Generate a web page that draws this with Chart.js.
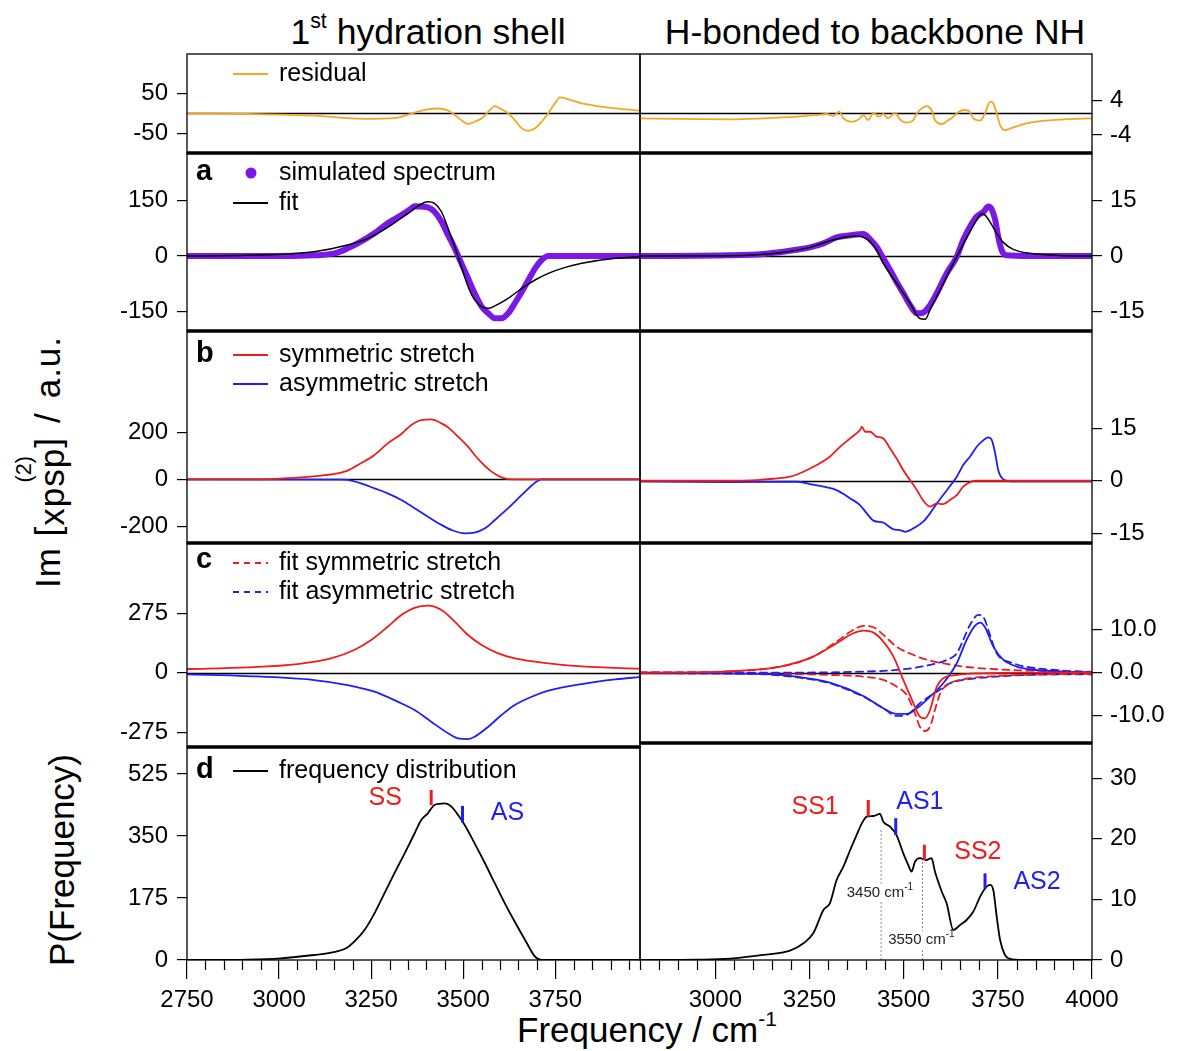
<!DOCTYPE html>
<html>
<head>
<meta charset="utf-8">
<script src="https://cdn.jsdelivr.net/npm/chart.js@4.4.1/dist/chart.umd.min.js"></script>
<style>
    body { margin: 0; background: #fff; font-family: "Liberation Sans", Arial, sans-serif; }
    #fig { position: relative; width: 1183px; height: 1051px; overflow: hidden; background: #fff; }
    .panel { position: absolute; }
    .txt { position: absolute; white-space: nowrap; color: #000; transform: translate(-50%, -50%); }
    .vtxt { position: absolute; white-space: nowrap; color: #000; transform: translate(-50%, -50%) rotate(-90deg); }
    .title { font-size: 35.5px; }
    .axlab { font-size: 35px; }
    .spaced { letter-spacing: 1px; }
    sup.s { font-size: 60%; vertical-align: 0.75em; line-height: 0; }
    .dn { position: relative; top: 0.1em; }
    .up0 { display: inline-block; width: 0; position: relative; top: -1.35em; left: -1.6em; font-size: 0.62em; letter-spacing: 0; }
    .gap { margin: 0 0.4em; }
</style>
</head>
<body>
<div id="fig">
    <div class="txt title" style="left:428px;top:32px">1<sup class="s">st</sup> hydration shell</div>
    <div class="txt title" style="left:875px;top:32px">H-bonded to backbone NH</div>
    <div class="txt axlab" style="left:647px;top:1030px">Frequency / cm<sup class="s">-1</sup></div>
    <div class="vtxt axlab spaced" style="left:48px;top:462px">Im [<span class="dn">xpsp</span><span class="up0">(2)</span>]<span class="gap">/</span>a.u.</div>
    <div class="vtxt axlab" style="left:62px;top:860px">P(Frequency)</div>
</div>
<script>
// Values: [frequency, value]

// residual (top row)
const residualLeft = [[2750,0],[2914,-1.7],[3095,-6],[3231,-14],[3313,-12],[3368,2],[3404,10],[3432,12],[3459,7],[3477,-4],[3495,-17],[3513,-27],[3531,-21],[3550,-12.5],[3568,4],[3586,18],[3604,10],[3622,0],[3640,-17],[3659,-37.5],[3677,-44],[3695,-37.5],[3713,-21],[3731,0],[3749,25],[3763,40],[3786,35],[3822,25],[3913,12.5],[3980,7]];
const residualRight = [[2800,-0.1],[2950,-0.26],[3039,-0.33],[3127,-0.1],[3216,0.29],[3269,0.68],[3296,0.91],[3313,0.44],[3329,1.45],[3340,-0.1],[3366,-0.88],[3384,-0.1],[3393,0.68],[3406,-0.49],[3420,1.22],[3433,0.29],[3446,0.91],[3459,-0.1],[3477,1.22],[3490,-0.33],[3508,-1.11],[3526,-0.49],[3535,1.06],[3548,2.23],[3561,2.77],[3574,1.84],[3583,-0.49],[3601,-1.42],[3619,-0.49],[3627,-0.1],[3641,1.06],[3658,1.84],[3672,1.69],[3685,-0.1],[3703,-0.64],[3716,1.06],[3729,3.78],[3738,3.4],[3747,1.06],[3756,-1.66],[3769,-2.82],[3791,-2.2],[3835,-1.11],[3924,-0.33],[4000,-0.1]];

// a: simulated spectrum and fit
const simLeft = [[2750,0],[3004,0],[3095,1.8],[3150,7],[3186,20.6],[3222,38.5],[3259,61],[3295,88],[3332,110],[3359,128],[3368,134],[3386,133],[3404,131],[3422,119],[3441,92],[3459,56],[3477,20.6],[3495,-19.7],[3513,-60],[3531,-100],[3550,-136],[3568,-154],[3586,-167.5],[3604,-167.5],[3622,-154],[3640,-127],[3659,-96],[3677,-64.5],[3695,-33],[3713,-10.8],[3731,0],[3822,0],[3980,0]];
const fitLeft = [[2750,0],[2914,1.8],[3095,11.6],[3186,29.6],[3241,47.5],[3295,77],[3350,114.7],[3386,139.8],[3404,146],[3422,141.6],[3441,119],[3459,74],[3477,25],[3495,-28.7],[3513,-82],[3531,-118],[3550,-136],[3568,-140.7],[3586,-134],[3622,-113.8],[3659,-87],[3695,-64.5],[3731,-46.6],[3777,-30.5],[3822,-19.7],[3913,-6.3],[3980,-1.8]];
const simRight = [[2800,0],[3039,0.18],[3127,0.54],[3198,1.43],[3251,2.33],[3287,3.4],[3322,5.0],[3358,5.56],[3393,5.9],[3411,4.5],[3428,2.5],[3446,-0.63],[3464,-3.76],[3481,-6.9],[3499,-10],[3517,-13.2],[3535,-15.4],[3552,-15.2],[3570,-13.2],[3588,-10],[3614,-4.66],[3641,-0.18],[3658,4.3],[3676,7.9],[3694,10.6],[3712,11.9],[3725,13.3],[3734,12.5],[3743,9.7],[3751,5.2],[3760,1.6],[3773,0.18],[3835,0],[4000,0]];
const fitRight = [[2800,0],[3039,0.09],[3172,0.9],[3251,2.33],[3304,4.1],[3349,5.2],[3375,5.4],[3393,5.0],[3411,3.85],[3428,1.6],[3446,-2.0],[3481,-7.3],[3517,-12.7],[3543,-16.8],[3557,-17.0],[3570,-14.5],[3597,-9.1],[3623,-3.76],[3650,1.6],[3676,6.5],[3694,9.7],[3707,11.3],[3716,11.0],[3729,9.2],[3747,6.1],[3765,3.6],[3791,1.8],[3835,0.72],[3924,0.09],[4000,0]];

// b: symmetric / asymmetric stretch
const ssLeft = [[2750,0],[2959,0],[3050,7],[3114,15.6],[3168,28.4],[3186,36.9],[3222,68],[3259,103.5],[3295,153],[3332,193],[3359,231],[3386,252],[3413,255],[3441,238],[3459,221],[3486,181.5],[3513,139],[3531,103.5],[3550,71],[3577,32.6],[3604,8.5],[3631,0],[3980,0]];
const asLeft = [[2750,0],[3168,-1.4],[3186,-2.8],[3222,-17],[3259,-38.3],[3295,-59.6],[3332,-88],[3368,-123],[3404,-159],[3441,-194],[3468,-215.5],[3504,-230],[3531,-227],[3559,-208.5],[3586,-173],[3622,-123],[3659,-66.6],[3695,-14.2],[3713,0],[3980,0]];
const ssRight = [[2800,0],[3039,0],[3110,0.19],[3154,0.57],[3198,1.14],[3234,2.57],[3269,4.48],[3304,6.86],[3331,9.7],[3358,12.1],[3384,14.5],[3389,15.4],[3398,14.0],[3411,14.0],[3428,12.6],[3446,12.1],[3464,9.2],[3481,6.4],[3499,3.0],[3517,0.19],[3535,-2.67],[3552,-5.7],[3570,-7.4],[3588,-6.5],[3605,-6.7],[3623,-5.5],[3641,-4.1],[3658,-1.7],[3676,-0.38],[3694,0],[4000,0]];
const asRight = [[2800,-0.19],[3039,-0.38],[3172,-0.29],[3216,-0.29],[3251,-0.95],[3287,-1.71],[3322,-2.67],[3358,-5.05],[3384,-6.95],[3402,-9.33],[3420,-11.4],[3446,-12],[3473,-13.9],[3490,-14.1],[3504,-14.6],[3526,-13.6],[3552,-11.7],[3570,-9.33],[3588,-6.48],[3605,-4.1],[3623,-1.52],[3641,1.14],[3658,4.48],[3676,6.86],[3694,9.7],[3712,11.6],[3725,12.4],[3734,11.6],[3743,7.8],[3751,3.05],[3765,0.38],[3791,-0.19],[4000,-0.19]];

// c: fitted stretches (right side: sums solid, components dashed)
const fitSSLeft = [[2750,17],[2914,24.6],[3050,40],[3141,66],[3204,104.8],[3250,151],[3295,212.6],[3332,266.5],[3368,300],[3404,309.7],[3441,289.6],[3477,235.7],[3513,174],[3550,128],[3595,89],[3640,66],[3731,43],[3822,29],[3980,18.5]];
const fitASLeft = [[2750,-7.7],[2914,-15.4],[3095,-33.9],[3186,-57],[3259,-87.8],[3322,-134],[3368,-172.5],[3413,-226.5],[3459,-280],[3486,-303.5],[3513,-306.6],[3531,-296],[3568,-249.6],[3604,-195.7],[3640,-149.4],[3686,-111],[3731,-83],[3822,-52.4],[3913,-30.8],[3980,-20]];
const ssSumRight = [[2800,0],[3039,0.31],[3172,1.4],[3260,3.73],[3322,6.84],[3366,9.17],[3393,9.79],[3420,9.32],[3446,7.23],[3473,3.73],[3499,-1.71],[3526,-7.15],[3543,-10.26],[3557,-10.64],[3570,-8.7],[3588,-3.26],[3605,-1.32],[3641,-0.54],[3703,-0.16],[3835,0],[4000,0]];
const ss1Right = [[2800,0],[3039,0.31],[3172,1.4],[3260,3.73],[3322,7.23],[3366,9.95],[3393,10.88],[3420,10.57],[3446,8.78],[3481,6.06],[3526,4.12],[3570,2.8],[3614,2.02],[3658,1.4],[3747,0.78],[3835,0.47],[4000,0.16]];
const ss2Right = [[2800,-0.16],[3127,-0.31],[3304,-0.54],[3393,-0.93],[3446,-1.71],[3481,-3.26],[3508,-5.2],[3530,-9.48],[3543,-12.6],[3557,-13.6],[3570,-12.6],[3583,-8.7],[3597,-4.8],[3623,-2.49],[3658,-1.55],[3747,-0.78],[3835,-0.47],[4000,-0.23]];
const asSumRight = [[2800,0],[3127,-0.31],[3216,-0.93],[3304,-2.33],[3393,-5.44],[3446,-8.31],[3481,-9.63],[3508,-9.63],[3535,-8.31],[3570,-5.6],[3605,-2.49],[3641,2.18],[3667,7.6],[3689,10.88],[3703,11.66],[3716,10.57],[3738,6.06],[3765,2.95],[3800,1.4],[3835,0.78],[3924,0.23],[4000,0.1]];
const as1Right = [[2800,0],[3127,-0.39],[3216,-1.09],[3304,-2.49],[3393,-5.6],[3446,-8.31],[3481,-10.1],[3508,-9.87],[3543,-7.15],[3588,-4.43],[3623,-2.49],[3658,-1.71],[3747,-0.93],[3835,-0.54],[4000,-0.39]];
const as2Right = [[2800,0],[3127,0],[3393,0.23],[3481,0.62],[3570,1.79],[3614,2.95],[3641,4.5],[3658,7.6],[3676,11.1],[3698,13.44],[3712,12.9],[3729,8.78],[3747,4.5],[3791,2.18],[3835,1.24],[3924,0.47],[4000,0.16]];

// d: frequency distributions
const freqLeft = [[2750,0],[2823,0],[2914,0.9],[3004,4.7],[3095,14.1],[3141,20.7],[3182,33],[3204,51.7],[3232,84.7],[3259,131.7],[3286,188],[3313,244.6],[3341,301],[3368,357.5],[3386,395],[3404,414],[3422,437.5],[3450,442],[3468,433],[3486,409],[3504,381],[3531,329],[3559,273],[3586,216],[3613,160],[3640,108],[3668,56.5],[3695,9.4],[3713,0],[3980,0]];
const freqRight = [[2800,0],[2950,0.06],[3039,0.22],[3127,0.83],[3198,1.54],[3234,2.75],[3260,4.4],[3287,8.25],[3304,9.35],[3322,13.2],[3340,15.4],[3358,18.15],[3375,20.6],[3389,22.55],[3402,23.65],[3420,23.76],[3437,24.1],[3446,22.8],[3464,22],[3481,20.6],[3499,17.6],[3512,15.7],[3521,14.6],[3530,16.2],[3543,16.8],[3561,16.5],[3574,16.8],[3583,14.6],[3601,11.3],[3614,9.35],[3632,4.95],[3650,5.78],[3667,6.6],[3685,8.0],[3703,10.45],[3716,11.8],[3729,12.4],[3738,11.55],[3747,7.15],[3756,3.3],[3769,0.83],[3782,0.17],[3818,0],[4000,0]];

// d: peak markers [frequency, from, to] and labels [text, frequency, value]
const ssMarksLeft = [[3413,437,480]];
const asMarksLeft = [[3498,388,435]];
const ssLabelsLeft = [['SS',3288,457]];
const asLabelsLeft = [['AS',3620,415]];
const ssMarksRight = [[3406,23.65,26.4],[3555,16.5,19.0]];
const asMarksRight = [[3479,20.6,23.4],[3716,11.8,14.3]];
const ssLabelsRight = [['SS1',3265,25.2],['SS2',3697,17.8]];
const asLabelsRight = [['AS1',3543,26.1],['AS2',3854,12.9]];
const refLinesRight = [[3440,21.7],[3550,16.5]];
const refLabelsRight = [['3450 cm','-1',3437,11.1],['3550 cm','-1',3547,3.3]];

// axis ticks
const resTicksLeft = [50, -50];
const resTicksRight = [4, -4];
const aTicksLeft = [150, 0, -150];
const aTicksRight = [15, 0, -15];
const bTicksLeft = [200, 0, -200];
const bTicksRight = [15, 0, -15];
const cTicksLeft = [275, 0, -275];
const cTicksRight = [10, 0, -10];
const cLabelsRight = ['10.0', '0.0', '-10.0'];
const dTicksLeft = [525, 350, 175, 0];
const dTicksRight = [30, 20, 10, 0];

// Colors / layout
const FONT = '"Liberation Sans", Arial, sans-serif';
const ORANGE = '#f5a623', PURPLE = '#7a18e8', RED = '#ee1c1c', BLUE = '#1f1ff0';
const P = 4, AX = 75, XH = 50;
const fig = document.getElementById('fig');

function pairs(arr) {
    return arr.map(p => ({ x: p[0], y: p[1] }));
}

function line(data, color, width, extra) {
    return Object.assign({
        data: pairs(data), borderColor: color, borderWidth: width, pointRadius: 0,
        fill: false, cubicInterpolationMode: 'monotone', borderCapStyle: 'round', borderJoinStyle: 'round'
    }, extra || {});
}

function supText(ctx, base, sup, cx, cy, size) {
    ctx.font = `${size}px ${FONT}`;
    const w1 = ctx.measureText(base).width;
    ctx.font = `${Math.round(size * 0.65)}px ${FONT}`;
    const w2 = ctx.measureText(sup).width;
    const x0 = cx - (w1 + w2) / 2;
    ctx.fillStyle = '#fff';
    ctx.fillRect(x0 - 2, cy - size * 0.6, w1 + w2 + 4, size * 1.2);
    ctx.fillStyle = '#222';
    ctx.textAlign = 'left';
    ctx.textBaseline = 'middle';
    ctx.font = `${size}px ${FONT}`;
    ctx.fillText(base, x0, cy);
    ctx.font = `${Math.round(size * 0.65)}px ${FONT}`;
    ctx.fillText(sup, x0 + w1, cy - size * 0.35);
}

// Draws frame, zero line, minor ticks, legend and annotations for one panel
function decorPlugin(cfg) {
    return {
        id: 'decor',
        beforeDatasetsDraw(chart) {
            const { ctx, chartArea: a, scales } = chart;
            ctx.save();
            if (cfg.zero !== undefined) {
                const y = Math.round(scales.y.getPixelForValue(cfg.zero)) + 0.5;
                ctx.strokeStyle = '#000';
                ctx.lineWidth = 1.3;
                ctx.beginPath(); ctx.moveTo(a.left, y); ctx.lineTo(a.right, y); ctx.stroke();
            }
            (cfg.refLines || []).forEach(r => {
                const x = scales.x.getPixelForValue(r[0]);
                ctx.strokeStyle = '#888';
                ctx.lineWidth = 1;
                ctx.setLineDash([2, 2]);
                ctx.beginPath(); ctx.moveTo(x, scales.y.getPixelForValue(0)); ctx.lineTo(x, scales.y.getPixelForValue(r[1])); ctx.stroke();
                ctx.setLineDash([]);
            });
            (cfg.refLabels || []).forEach(r => {
                supText(ctx, r[0], r[1], scales.x.getPixelForValue(r[2]), scales.y.getPixelForValue(r[3]), 15);
            });
            ctx.restore();
        },
        afterDraw(chart) {
            const { ctx, chartArea: a, scales } = chart;
            ctx.save();
            // frame
            ctx.strokeStyle = '#000';
            ctx.lineWidth = 1.3;
            ctx.strokeRect(a.left, a.top, a.right - a.left, a.bottom - a.top);
            if (cfg.thickTop) {
                ctx.lineWidth = 3.5;
                ctx.beginPath(); ctx.moveTo(a.left, a.top); ctx.lineTo(a.right, a.top); ctx.stroke();
            }
            // minor ticks on frequency axis
            if (cfg.xAxis) {
                ctx.lineWidth = 1.2;
                scales.x.ticks.forEach(t => {
                    if (t.value % 250 === 0) return;
                    const x = Math.round(scales.x.getPixelForValue(t.value)) + 0.5;
                    ctx.beginPath(); ctx.moveTo(x, a.bottom); ctx.lineTo(x, a.bottom + 10); ctx.stroke();
                });
            }
            // legend
            ctx.textBaseline = 'middle';
            ctx.textAlign = 'left';
            if (cfg.letter) {
                ctx.fillStyle = '#000';
                ctx.font = `bold 29px ${FONT}`;
                ctx.fillText(cfg.letter, a.left + 9, a.top + cfg.letterDy);
            }
            (cfg.legend || []).forEach(it => {
                const y = a.top + it.dy;
                if (it.dot) {
                    ctx.fillStyle = it.color;
                    ctx.beginPath(); ctx.arc(a.left + 64, y, 5.5, 0, Math.PI * 2); ctx.fill();
                } else {
                    ctx.strokeStyle = it.color;
                    ctx.lineWidth = 1.8;
                    ctx.setLineDash(it.dash ? [6, 5] : []);
                    ctx.beginPath(); ctx.moveTo(a.left + 46, y); ctx.lineTo(a.left + 81, y); ctx.stroke();
                    ctx.setLineDash([]);
                }
                ctx.fillStyle = '#000';
                ctx.font = `25px ${FONT}`;
                ctx.fillText(it.text, a.left + 92, y);
            });
            // peak markers and labels
            (cfg.marks || []).forEach(g => {
                ctx.strokeStyle = g.color;
                ctx.lineWidth = 3;
                g.data.forEach(m => {
                    const x = scales.x.getPixelForValue(m[0]);
                    ctx.beginPath(); ctx.moveTo(x, scales.y.getPixelForValue(m[1])); ctx.lineTo(x, scales.y.getPixelForValue(m[2])); ctx.stroke();
                });
            });
            (cfg.labels || []).forEach(g => {
                ctx.fillStyle = g.color;
                ctx.font = `25px ${FONT}`;
                ctx.textAlign = 'center';
                g.data.forEach(l => ctx.fillText(l[0], scales.x.getPixelForValue(l[1]), scales.y.getPixelForValue(l[2])));
            });
            ctx.restore();
        }
    };
}

function makePanel(cfg) {
    const left = cfg.side === 'left';
    const w = (cfg.x1 - cfg.x0) + AX + 2 * P;
    const h = (cfg.y1 - cfg.y0) + 2 * P + (cfg.xAxis ? XH : 0);
    const div = document.createElement('div');
    div.className = 'panel';
    div.style.left = (left ? cfg.x0 - AX - P : cfg.x0 - P) + 'px';
    div.style.top = (cfg.y0 - P) + 'px';
    const canvas = document.createElement('canvas');
    canvas.width = w;
    canvas.height = h;
    div.appendChild(canvas);
    fig.appendChild(div);

    const minorTicks = [];
    for (let v = Math.ceil(cfg.xRange[0] / 50) * 50; v <= cfg.xRange[1]; v += 50) minorTicks.push(v);

    new Chart(canvas, {
        type: 'line',
        data: { datasets: cfg.datasets },
        options: {
            responsive: false,
            animation: false,
            events: [],
            layout: { padding: P },
            plugins: { legend: { display: false }, tooltip: { enabled: false } },
            scales: {
                x: {
                    type: 'linear', min: cfg.xRange[0], max: cfg.xRange[1], display: !!cfg.xAxis,
                    border: { display: false },
                    grid: {
                        drawOnChartArea: false, tickLength: 19, lineWidth: 1.2,
                        tickColor: c => (c.tick && c.tick.value % 250 === 0) ? '#000' : 'rgba(0,0,0,0)'
                    },
                    ticks: {
                        autoSkip: false, maxRotation: 0, padding: 7, color: '#000',
                        font: { size: 24, family: FONT },
                        callback: v => (v % 250 === 0 ? String(v) : '')
                    },
                    afterBuildTicks: s => { s.ticks = minorTicks.map(v => ({ value: v })); },
                    afterFit: s => {
                        s.height = cfg.xAxis ? XH : 0;
                        s.paddingLeft = 0; s.paddingRight = 0;
                    }
                },
                y: {
                    type: 'linear', position: cfg.side, min: cfg.yRange[0], max: cfg.yRange[1],
                    border: { display: false },
                    grid: { drawOnChartArea: false, tickLength: 10, color: '#000', lineWidth: 1.2 },
                    ticks: {
                        padding: left ? 9 : 8, color: '#000', font: { size: 24, family: FONT },
                        callback: v => {
                            const i = cfg.yTicks.indexOf(v);
                            return cfg.yLabels ? cfg.yLabels[i] : String(v);
                        }
                    },
                    afterBuildTicks: s => { s.ticks = cfg.yTicks.map(v => ({ value: v })); },
                    afterFit: s => {
                        s.width = AX;
                        s.paddingTop = 0; s.paddingBottom = 0;
                    }
                }
            }
        },
        plugins: [decorPlugin(cfg)]
    });
}

const L = { side: 'left', x0: 187, x1: 640, xRange: [2750, 3980] };
const R = { side: 'right', x0: 640, x1: 1092, xRange: [2800, 4000] };

// residual row
makePanel(Object.assign({}, L, {
    y0: 54, y1: 153, yRange: [-99, 148], yTicks: resTicksLeft, zero: 0,
    datasets: [line(residualLeft, ORANGE, 1.8)],
    legend: [{ text: 'residual', color: ORANGE, dy: 20 }]
}));
makePanel(Object.assign({}, R, {
    y0: 54, y1: 153, yRange: [-8.18, 14.9], yTicks: resTicksRight, zero: 1.07,
    datasets: [line(residualRight, ORANGE, 1.8)]
}));

// a
makePanel(Object.assign({}, L, {
    y0: 153, y1: 331, yRange: [-201.6, 277], yTicks: aTicksLeft, zero: 0, thickTop: true,
    datasets: [line(fitLeft, '#000', 1.5, { order: 0 }), line(simLeft, PURPLE, 6, { order: 1 })],
    letter: 'a', letterDy: 19,
    legend: [{ text: 'simulated spectrum', color: PURPLE, dot: true, dy: 20 }, { text: 'fit', color: '#000', dy: 50 }]
}));
makePanel(Object.assign({}, R, {
    y0: 153, y1: 331, yRange: [-20.16, 27.7], yTicks: aTicksRight, zero: 0, thickTop: true,
    datasets: [line(fitRight, '#000', 1.5, { order: 0 }), line(simRight, PURPLE, 6, { order: 1 })]
}));

// b
makePanel(Object.assign({}, L, {
    y0: 331, y1: 543, yRange: [-271, 631], yTicks: bTicksLeft, zero: 0, thickTop: true,
    datasets: [line(ssLeft, RED, 1.8), line(asLeft, BLUE, 1.8)],
    letter: 'b', letterDy: 23,
    legend: [{ text: 'symmetric stretch', color: RED, dy: 24 }, { text: 'asymmetric stretch', color: BLUE, dy: 53 }]
}));
makePanel(Object.assign({}, R, {
    y0: 331, y1: 543, yRange: [-17.8, 42.8], yTicks: bTicksRight, zero: 0, thickTop: true,
    datasets: [line(ssRight, RED, 1.8), line(asRight, BLUE, 1.8)]
}));

// c
makePanel(Object.assign({}, L, {
    y0: 543, y1: 747, yRange: [-343.4, 599.4], yTicks: cTicksLeft, zero: 0, thickTop: true,
    datasets: [line(fitSSLeft, RED, 1.8), line(fitASLeft, BLUE, 1.8)],
    letter: 'c', letterDy: 17,
    legend: [{ text: 'fit symmetric stretch', color: RED, dash: true, dy: 20 }, { text: 'fit asymmetric stretch', color: BLUE, dash: true, dy: 49 }]
}));
makePanel(Object.assign({}, R, {
    y0: 543, y1: 743, yRange: [-16.4, 30.2], yTicks: cTicksRight, yLabels: cLabelsRight, zero: 0, thickTop: true,
    datasets: [
        line(ssSumRight, RED, 1.8), line(asSumRight, BLUE, 1.8),
        line(ss1Right, RED, 1.8, { borderDash: [7, 5] }), line(ss2Right, RED, 1.8, { borderDash: [7, 5] }),
        line(as1Right, BLUE, 1.8, { borderDash: [7, 5] }), line(as2Right, BLUE, 1.8, { borderDash: [7, 5] })
    ]
}));

// d
makePanel(Object.assign({}, L, {
    y0: 747, y1: 960, yRange: [0, 601.2], yTicks: dTicksLeft, thickTop: true, xAxis: true,
    datasets: [line(freqLeft, '#000', 1.8)],
    letter: 'd', letterDy: 23,
    legend: [{ text: 'frequency distribution', color: '#000', dy: 24 }],
    marks: [{ color: RED, data: ssMarksLeft }, { color: BLUE, data: asMarksLeft }],
    labels: [{ color: RED, data: ssLabelsLeft }, { color: BLUE, data: asLabelsLeft }]
}));
makePanel(Object.assign({}, R, {
    y0: 743, y1: 960, yRange: [0, 35.8], yTicks: dTicksRight, thickTop: true, xAxis: true,
    datasets: [line(freqRight, '#000', 1.8)],
    refLines: refLinesRight, refLabels: refLabelsRight,
    marks: [{ color: RED, data: ssMarksRight }, { color: BLUE, data: asMarksRight }],
    labels: [{ color: RED, data: ssLabelsRight }, { color: BLUE, data: asLabelsRight }]
}));
</script>
</body>
</html>
